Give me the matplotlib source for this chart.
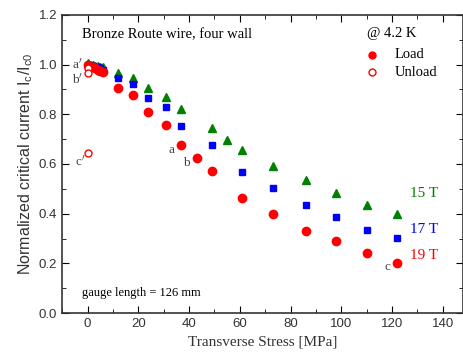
import matplotlib

matplotlib.use("agg")
import matplotlib.pyplot as plt
from matplotlib.ticker import MultipleLocator

# 19 T, load (red circles)
x19 = [0, 1, 2, 3, 4, 5, 6, 12, 18, 24, 31, 37, 43, 49, 61, 73, 86, 98, 110, 122]
y19 = [1.0, 0.99, 0.99, 0.985, 0.98, 0.975, 0.97, 0.905, 0.877, 0.81, 0.757, 0.675,
       0.626, 0.57, 0.465, 0.40, 0.331, 0.291, 0.242, 0.202]
# 19 T, unload (open circles)
x19u = [0, 0, 0]
y19u = [0.985, 0.965, 0.646]
# 17 T (blue squares)
x17 = [0, 1, 2, 3, 4, 5, 6, 12, 18, 24, 31, 37, 49, 61, 73, 86, 98, 110, 122]
y17 = [1.0, 1.0, 0.995, 0.99, 0.99, 0.985, 0.98, 0.945, 0.921, 0.865, 0.828, 0.752,
       0.675, 0.566, 0.505, 0.436, 0.388, 0.335, 0.303]
# 15 T (green triangles)
x15 = [0, 1, 2, 3, 4, 5, 6, 12, 18, 24, 31, 37, 49, 55, 61, 73, 86, 98, 110, 122]
y15 = [1.005, 1.0, 1.0, 0.995, 0.995, 0.99, 0.99, 0.965, 0.945, 0.905, 0.868, 0.82,
       0.745, 0.697, 0.657, 0.592, 0.535, 0.483, 0.434, 0.398]

serif = "Liberation Serif"
sans = "Liberation Sans"

fig = plt.figure(figsize=(4.64, 3.64), dpi=100)
ax = fig.add_axes([0.134, 0.140, 0.864, 0.819])

ax.plot(x15, y15, "^", color="#008000", markersize=6, linestyle="none")
ax.plot(x17, y17, "s", color="#0000ff", markersize=5, linestyle="none")
ax.plot(x19, y19, "o", color="#ff0000", markersize=6, linestyle="none")
ax.plot(x19u, y19u, "o", mfc="white", mec="#ff0000", mew=1.0, markersize=5, linestyle="none")

ax.set_xlim(-10, 148)
ax.set_ylim(0, 1.2)
ax.xaxis.set_major_locator(MultipleLocator(20))
ax.xaxis.set_minor_locator(MultipleLocator(10))
ax.yaxis.set_major_locator(MultipleLocator(0.2))
ax.yaxis.set_minor_locator(MultipleLocator(0.1))
ax.yaxis.set_major_formatter(matplotlib.ticker.FormatStrFormatter("%.1f"))
ax.tick_params(which="both", direction="in", top=True, right=True, labelsize=9.5)
ax.tick_params(which="major", length=5)
ax.tick_params(which="minor", length=3)
for lbl in ax.get_xticklabels() + ax.get_yticklabels():
    lbl.set_fontfamily(sans)
    lbl.set_color("#333333")
for s in ax.spines.values():
    s.set_linewidth(1.2)
    s.set_color("#333333")

ax.set_xlabel("Transverse Stress [MPa]", fontfamily=serif, fontsize=11, color="#333333")
ax.set_ylabel(r"Normalized critical current I$_\mathregular{c}$/I$_\mathregular{c0}$",
              fontfamily=sans, fontsize=11.5, color="#333333", labelpad=3)

ax.text(-2, 1.12, "Bronze Route wire, four wall", fontfamily=serif, fontsize=10.5, va="center")
ax.text(110, 1.125, "@ 4.2 K", fontfamily=serif, fontsize=10.5, va="center")
ax.plot([112], [1.04], "o", color="#ff0000", markersize=5)
ax.plot([112], [0.97], "o", mfc="white", mec="#ff0000", markersize=5)
ax.text(121, 1.04, "Load", fontfamily=serif, fontsize=10.5, va="center")
ax.text(121, 0.97, "Unload", fontfamily=serif, fontsize=10.5, va="center")

ax.text(127, 0.48, "15 T", fontfamily=serif, fontsize=11, color="#008000", va="center")
ax.text(127, 0.335, "17 T", fontfamily=serif, fontsize=11, color="#0000ff", va="center")
ax.text(127, 0.23, "19 T", fontfamily=serif, fontsize=11, color="#ff0000", va="center")

ax.text(-6, 1.0, "a$^\\prime$", fontfamily=serif, fontsize=9.5, color="#444444", va="center")
ax.text(-6, 0.94, "b$^\\prime$", fontfamily=serif, fontsize=9.5, color="#444444", va="center")
ax.text(-5, 0.61, "c$^\\prime$", fontfamily=serif, fontsize=9.5, color="#444444", va="center")
ax.text(32, 0.655, "a", fontfamily=serif, fontsize=9.5, color="#444444", va="center")
ax.text(37.5, 0.605, "b", fontfamily=serif, fontsize=9.5, color="#444444", va="center")
ax.text(117, 0.185, "c", fontfamily=serif, fontsize=9.5, color="#444444", va="center")

ax.text(-2, 0.08, "gauge length = 126 mm", fontfamily=serif, fontsize=9, va="center")

fig.savefig("out.png", dpi=100)
